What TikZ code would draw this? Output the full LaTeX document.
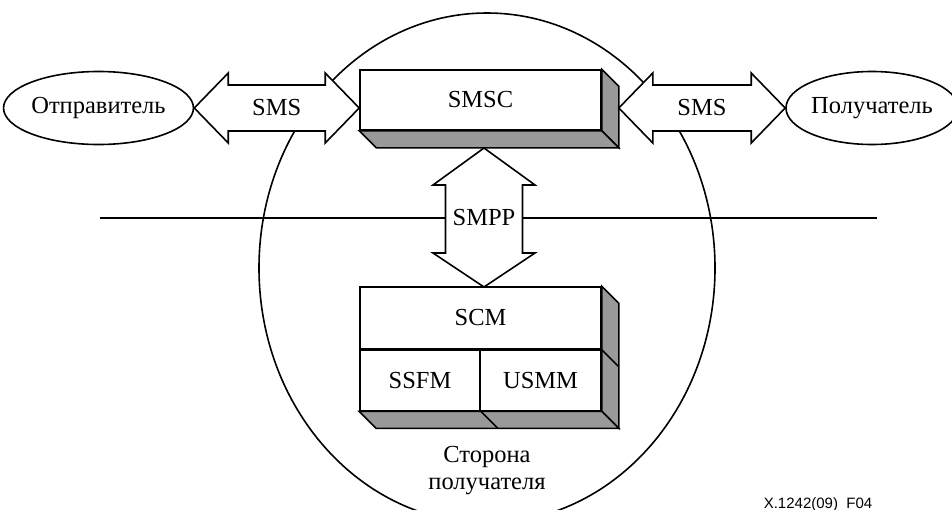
\documentclass[tikz,border=0pt]{standalone}
\usepackage{fontspec}
\setmainfont{Liberation Serif}
\newfontfamily\labelfont{Liberation Sans}
\usetikzlibrary{shapes.geometric,calc}
\definecolor{shade}{gray}{0.6}
\tikzset{
  lbl/.style={font=\fontsize{24.5}{27}\selectfont, inner sep=0pt},
  party/.style={draw, ellipse, fill=white, minimum width=173pt, minimum height=73pt, inner sep=0pt, font=\fontsize{24.5}{27}\selectfont},
  front/.style={draw, fill=white, inner sep=0pt, font=\fontsize{24.5}{27}\selectfont},
  side/.style={draw, fill=shade},
  arr/.style={draw, fill=white},
}
\begin{document}
\begin{tikzpicture}[x=1pt,y=-1pt,line width=1.6pt,line join=miter]
\useasboundingbox (0,0) rectangle (952,509);
\clip (0,0) rectangle (952,509);
% receiver-side region
\draw (487,268) ellipse [x radius=228pt, y radius=255pt];
% boundary line
\coordinate (ll) at (100,218);
\coordinate (lr) at (877,218);
\draw (ll) -- (lr);
% parties
\node[party] (snd) at (98.5,108) {Отправитель};
\node[party, minimum width=164pt] (rcv) at (872,108) {Получатель};
% SMSC box
\node[front, minimum width=241pt, minimum height=60pt] (smsc) at (480.5,100) {SMSC};
\draw[side] (smsc.north east) -- ++(17,17) -- ($(smsc.south east)+(17,17)$) -- (smsc.south east) -- cycle;
\draw[side] (smsc.south west) -- ++(17,17) -- ($(smsc.south east)+(17,17)$) -- (smsc.south east) -- cycle;
% SCM block
\node[front, minimum width=241pt, minimum height=62pt] (scm) at (480.5,318) {SCM};
\node[front, minimum width=120pt, minimum height=60pt, anchor=north west] (ssfm) at (scm.south west) {SSFM};
\node[front, minimum width=121pt, minimum height=60pt, anchor=north east] (usmm) at (scm.south east) {USMM};
\draw[side] (scm.north east) -- ++(17,17) -- ($(usmm.south east)+(17,17)$) -- (usmm.south east) -- cycle;
\draw[side] (ssfm.south west) -- ++(17,17) -- ($(usmm.south east)+(17,17)$) -- (usmm.south east) -- cycle;
\draw (scm.south east) -- ++(17,17);
\draw (ssfm.south east) -- ++(17,17);
% SMS arrows
\coordinate (smscw) at (smsc.west |- snd.east);
\coordinate (smsce) at ($(smsc.east |- rcv.west)+(17,0)$);
\draw[arr] let \p1=(snd.east), \p2=(smscw) in
  (\x1,\y1) -- (\x1+34pt,\y1+35pt) -- (\x1+34pt,\y1+23pt) -- (\x2-34pt,\y1+23pt) -- (\x2-34pt,\y1+35pt) -- (\x2,\y1)
  -- (\x2-34pt,\y1-35pt) -- (\x2-34pt,\y1-23pt) -- (\x1+34pt,\y1-23pt) -- (\x1+34pt,\y1-35pt) -- cycle;
\draw[arr] let \p1=(smsce), \p2=(rcv.west) in
  (\x1,\y1) -- (\x1+34pt,\y1+35pt) -- (\x1+34pt,\y1+23pt) -- (\x2-34pt,\y1+23pt) -- (\x2-34pt,\y1+35pt) -- (\x2,\y1)
  -- (\x2-34pt,\y1-35pt) -- (\x2-34pt,\y1-23pt) -- (\x1+34pt,\y1-23pt) -- (\x1+34pt,\y1-35pt) -- cycle;
\node[lbl] (sms1) at ($(snd.east)!0.5!(smscw)$) {SMS};
\node[lbl] (sms2) at ($(smsce)!0.5!(rcv.west)$) {SMS};
% SMPP arrow
\coordinate (vt) at (484,148);
\coordinate (vb) at (484,287);
\draw[arr] let \p1=(vt), \p2=(vb) in
  (\x1,\y1) -- (\x1+51pt,\y1-37pt) -- (\x1+38.5pt,\y1-37pt) -- (\x1+38.5pt,\y2+34pt) -- (\x1+51pt,\y2+34pt) -- (\x1,\y2)
  -- (\x1-51pt,\y2+34pt) -- (\x1-38.5pt,\y2+34pt) -- (\x1-38.5pt,\y1-37pt) -- (\x1-51pt,\y1-37pt) -- cycle;
\node[lbl] (smpp) at (484,218) {SMPP};
% captions
\node[lbl, align=center] (side) at (487,471) {Сторона\\получателя};
\node[font=\labelfont\fontsize{15}{18}\selectfont, anchor=base west, inner sep=0pt] (fig) at (763,508.3) {X.1242(09)\_F04};
\end{tikzpicture}
\end{document}
